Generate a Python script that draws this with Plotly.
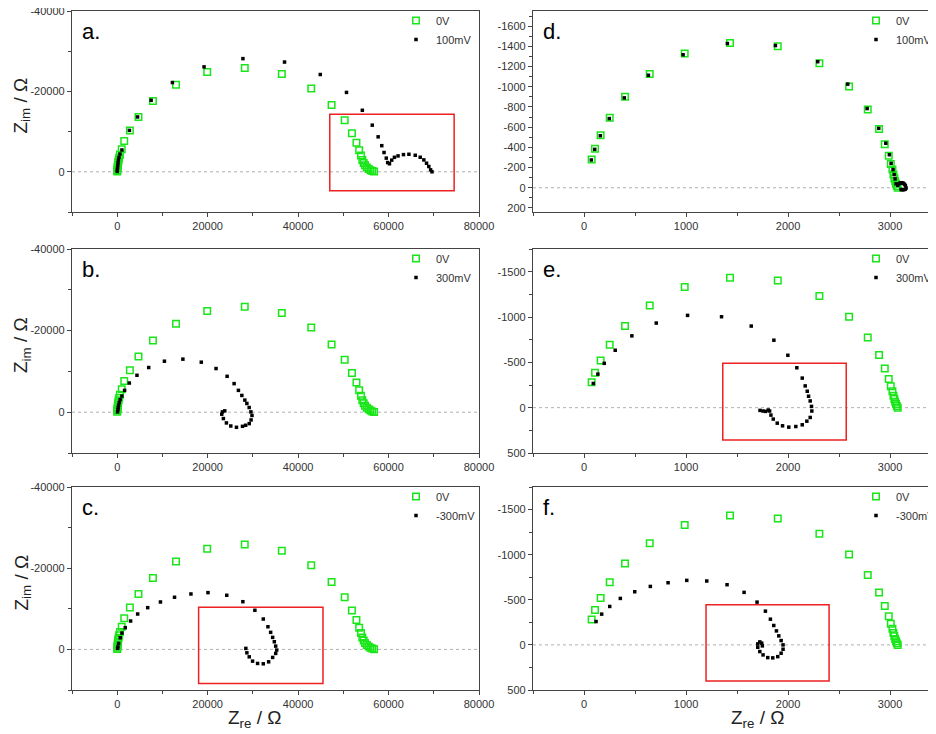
import plotly.graph_objects as go
from plotly.subplots import make_subplots

# left column (a, b, c) - 0V reference curve shared by all three panels
zre_0v_L = [0, 20, 50, 90, 140, 210, 300, 420, 600, 1000, 1550, 2800, 4700, 7900, 13000, 19900, 28200,
            36400, 42900, 47400, 50300, 51900, 52900, 53500, 53900, 54200, 54500, 54800, 55200, 55600,
            56000, 56400, 56800]
zim_0v_L = [-100, -400, -800, -1200, -1700, -2300, -2900, -3500, -4300, -5600, -7650, -10300, -13650,
            -17600, -21650, -24800, -25850, -24300, -20750, -16600, -12850, -9600, -7250, -5350, -4050,
            -2950, -2200, -1600, -1100, -700, -400, -200, -50]

zre_a = [0, 30, 70, 120, 180, 260, 380, 600, 1040, 2700, 4500, 7500, 12200, 19200, 27800, 37000, 44900,
         50700, 54200, 56400, 57700, 58500, 59000, 59500, 59800, 60200, 60700, 61300, 62100, 63300, 64500,
         65900, 67000, 67800, 68400, 68900, 69300, 69600]
zim_a = [-100, -500, -1000, -1600, -2200, -2900, -3600, -4400, -5430, -10300, -13650, -17800, -22200,
         -26100, -28150, -27300, -24200, -19750, -15300, -11600, -8700, -6500, -4800, -3400, -2300, -2000,
         -2900, -3600, -3950, -4280, -4360, -4110, -3620, -2960, -2140, -1320, -490, 0]

zre_b = [70, 150, 220, 300, 450, 650, 1030, 1630, 2670, 4370, 6960, 10440, 14520, 18590, 21850, 24300,
         25850, 26800, 27560, 28220, 28670, 29180, 29560, 29800, 29600, 29190, 28400, 27700, 26370, 25110,
         24150, 23480, 23110, 23260, 23780]
zim_b = [-80, -600, -1100, -1700, -2400, -3100, -3950, -5350, -7150, -9050, -10950, -12500, -13000, -12260,
         -10700, -8800, -7000, -5350, -4110, -2960, -2140, -1150, -80, 800, 1900, 2800, 3200, 3460, 3700,
         3380, 2630, 1560, 490, -80, -330]

zre_c = [70, 150, 300, 670, 1040, 1780, 2960, 4520, 6740, 9560, 12670, 16300, 20070, 24220, 27780, 30440,
         32300, 33330, 33930, 34370, 34740, 35040, 35260, 35040, 34370, 33480, 32300, 31040, 29930, 29190,
         28670, 28440]
zim_c = [-250, -600, -1480, -2870, -4020, -5350, -6990, -8720, -10280, -11680, -12840, -13650, -13980,
         -13330, -11750, -9630, -7480, -5580, -4200, -2960, -1880, -810, 170, 990, 1980, 3060, 3550, 3460,
         2890, 1830, 840, -250]

# right column (d, e, f)
zre_0v_R = [75, 108, 163, 252, 402, 644, 987, 1431, 1899, 2307, 2598, 2781, 2892, 2948, 2987, 3007, 3023,
            3033, 3042, 3050, 3058, 3066, 3075]
zim_0v_R = [-281, -386, -520, -693, -902, -1127, -1330, -1434, -1402, -1232, -1003, -775, -582, -431, -317,
            -235, -180, -131, -95, -65, -40, -18, 0]

zre_d = [72, 105, 160, 248, 395, 631, 971, 1405, 1876, 2291, 2585, 2775, 2889, 2958, 2993, 3010, 3029,
         3040, 3049, 3059, 3075, 3090, 3101, 3115, 3127, 3140, 3150, 3157, 3148, 3134, 3120, 3108]
zim_d = [-275, -380, -515, -685, -890, -1114, -1317, -1428, -1408, -1248, -1026, -784, -588, -441, -327,
         -242, -180, -130, -88, -39, -23, -40, -49, -50, -46, -36, -23, 3, 15, 20, 19, 17]

zre_e = [91, 136, 198, 306, 469, 708, 1015, 1348, 1639, 1861, 1998, 2086, 2139, 2168, 2188, 2201, 2217,
         2230, 2233, 2217, 2184, 2139, 2076, 2007, 1946, 1894, 1855, 1832, 1819, 1806, 1780, 1754, 1725]
zim_e = [-267, -370, -489, -633, -792, -933, -1018, -1003, -900, -744, -578, -440, -326, -240, -181, -126,
         -74, -14, 37, 108, 149, 189, 208, 215, 200, 171, 126, 82, 37, 26, 41, 37, 30]

zre_f = [118, 173, 252, 356, 497, 650, 824, 1007, 1203, 1402, 1569, 1696, 1778, 1827, 1860, 1886, 1909,
         1932, 1951, 1951, 1932, 1899, 1850, 1801, 1755, 1723, 1703, 1703, 1723, 1742, 1748]
zim_f = [-259, -341, -426, -515, -589, -648, -689, -715, -708, -667, -582, -474, -374, -285, -215, -155,
         -100, -48, 0, 48, 92, 130, 144, 141, 111, 74, 26, -11, -33, -19, 11]

# tick labels
xticks_L = [0, 20000, 40000, 60000, 80000]
yticks_L = [-40000, -20000, 0]
xticks_R = [0, 1000, 2000, 3000]
yticks_d = [-1600, -1400, -1200, -1000, -800, -600, -400, -200, 0, 200]
yticks_ef = [-1500, -1000, -500, 0, 500]

# zoom boxes drawn in red: [x0, x1, y0, y1]
box_a = [47000, 74500, -14300, 4700]
box_c = [18000, 45500, -10400, 8400]
box_e = [1360, 2570, -490, 356]
box_f = [1196, 2402, -444, 400]

panels = [
    # label, row, col, black name, black x, black y, box
    ('a.', 1, 1, '100mV', zre_a, zim_a, box_a),
    ('d.', 1, 2, '100mV', zre_d, zim_d, None),
    ('b.', 2, 1, '300mV', zre_b, zim_b, None),
    ('e.', 2, 2, '300mV', zre_e, zim_e, box_e),
    ('c.', 3, 1, '-300mV', zre_c, zim_c, box_c),
    ('f.', 3, 2, '-300mV', zre_f, zim_f, box_f),
]

# the page body has an 8px margin, so the figure is drawn 8px in from the window corner
OFF = 8
W, H = 936 - OFF, 734 - OFF
FONT = 'Liberation Sans, Arial, sans-serif'
GREEN = '#19e619'


def px(x):
    return (x - OFF) / W


def py(y):
    return 1 - (y - OFF) / H


def labels(vals):
    return [str(v) for v in vals]


fig = make_subplots(rows=3, cols=2)

# window pixel frames of each plot area
xdom = {1: (72, 479), 2: (533, 936)}
ydom = {1: (11, 212), 2: (249, 453), 3: (487, 690)}
legx = {1: 396, 2: 856}

for k, (lab, r, c, name, bx, by, box) in enumerate(panels):
    leg = 'legend' if k == 0 else 'legend%d' % (k + 1)
    gx, gy = (zre_0v_L, zim_0v_L) if c == 1 else (zre_0v_R, zim_0v_R)
    fig.add_trace(go.Scatter(x=gx, y=gy, mode='markers', name='0V', legend=leg,
                             marker=dict(symbol='square-open', size=6.5, color=GREEN, line=dict(width=1.5))),
                  row=r, col=c)
    fig.add_trace(go.Scatter(x=bx, y=by, mode='markers', name=name, legend=leg,
                             marker=dict(symbol='square', size=3.5, color='black')),
                  row=r, col=c)
    fig.add_hline(y=0, row=r, col=c, line=dict(color='#b0b0b0', width=1, dash='dot'), layer='below')
    if box:
        fig.add_shape(type='rect', x0=box[0], x1=box[1], y0=box[2], y1=box[3],
                      line=dict(color='#ee2020', width=1.5), row=r, col=c)

    x0, x1 = xdom[c]
    y0, y1 = ydom[r]
    fig.update_xaxes(domain=[px(x0), min(px(x1), 1)], row=r, col=c)
    fig.update_yaxes(domain=[py(y1), py(y0)], row=r, col=c)

    suffix = '' if k == 0 else str(k + 1)
    fig.add_annotation(text=lab, x=0.02, y=0.9, xref='x%s domain' % suffix, yref='y%s domain' % suffix,
                       xanchor='left', yanchor='middle', showarrow=False,
                       font=dict(size=22, color='black', family=FONT))

    fig.layout[leg] = dict(x=px(legx[c]), y=py(y0 - 5), xanchor='left', yanchor='top',
                           bgcolor='rgba(0,0,0,0)', font=dict(size=11, color='#333', family=FONT),
                           itemwidth=30, tracegroupgap=0)

axis_common = dict(showline=True, linecolor='#444', linewidth=1.3, mirror=True, ticks='outside',
                   ticklen=4, tickcolor='#444', showgrid=False, zeroline=False,
                   ticklabeloverflow='allow',
                   tickfont=dict(size=11, color='#333', family=FONT), automargin=False)


def minor(step):
    return dict(ticks='outside', ticklen=3, dtick=step, tick0=0, tickcolor='#444')


for r in (1, 2, 3):
    fig.update_xaxes(range=[-10000, 80000], tickvals=xticks_L, ticktext=labels(xticks_L),
                     minor=minor(10000), row=r, col=1, **axis_common)
    fig.update_yaxes(range=[10000, -40000], tickvals=yticks_L, ticktext=labels(yticks_L),
                     minor=minor(10000), row=r, col=1, **axis_common)
    fig.update_xaxes(range=[-500, 3450], tickvals=xticks_R, ticktext=labels(xticks_R),
                     minor=minor(500), row=r, col=2, **axis_common)

fig.update_yaxes(range=[240, -1750], tickvals=yticks_d, ticktext=labels(yticks_d),
                 minor=minor(100), row=1, col=2, **axis_common)
for r in (2, 3):
    fig.update_yaxes(range=[500, -1750], tickvals=yticks_ef, ticktext=labels(yticks_ef),
                     minor=minor(250), row=r, col=2, **axis_common)

# axis titles
for r in (1, 2, 3):
    y0, y1 = ydom[r]
    fig.add_annotation(text='Z<sub>im</sub> / Ω', x=px(22), y=py((y0 + y1) / 2 - 6), xref='paper', yref='paper',
                       xanchor='center', yanchor='middle', textangle=-90, showarrow=False,
                       font=dict(size=19, color='#222', family=FONT))
for xc in (254, 757):
    fig.add_annotation(text='Z<sub>re</sub> / Ω', x=px(xc), y=py(719), xref='paper', yref='paper',
                       xanchor='center', yanchor='middle', showarrow=False,
                       font=dict(size=19, color='#222', family=FONT))

fig.update_layout(width=W, height=H, margin=dict(l=0, r=0, t=0, b=0, autoexpand=False),
                  plot_bgcolor='white', paper_bgcolor='white', font=dict(family=FONT))

fig.write_html("out.html")
